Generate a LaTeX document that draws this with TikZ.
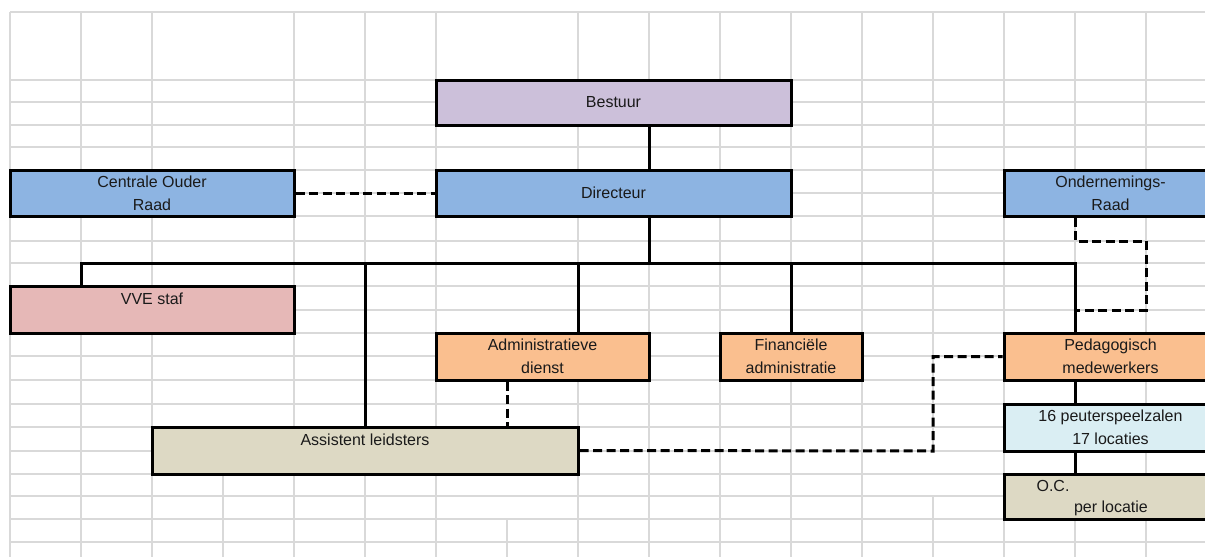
\documentclass[tikz,border=0pt]{standalone}
\usepackage{fontspec}
\setmainfont{Liberation Sans}
\definecolor{gridgray}{HTML}{D9D9D9}
\definecolor{lav}{HTML}{CCC0DA}
\definecolor{blu}{HTML}{8DB4E2}
\definecolor{pnk}{HTML}{E6B8B7}
\definecolor{org}{HTML}{FABF8F}
\definecolor{tan}{HTML}{DDD9C4}
\definecolor{lblue}{HTML}{DAEEF3}
\definecolor{txt}{HTML}{1A1A1A}
\begin{document}
\begin{tikzpicture}[x=1pt,y=-1pt,
  gridline/.style={draw=gridgray, line width=1.4pt},
  box/.style={draw=black, line width=3pt, inner sep=0pt, align=center,
    font=\fontsize{16}{23}\selectfont, text=txt},
  conn/.style={draw=black, line width=3pt},
  dconn/.style={draw=black, line width=3pt, dash pattern=on 9pt off 4.5pt},
  txtlabel/.style={inner sep=0pt, anchor=base, font=\fontsize{16}{23}\selectfont, text=txt}
]
\useasboundingbox (0,0) rectangle (1205,557);
\clip (0,0) rectangle (1205,557);
\fill[white] (0,0) rectangle (1205,557);

% spreadsheet grid
\foreach \x in {10,81,152,294,365,436,578,649,720,791,862,1004,1075,1146}
  \draw[gridline] (\x,12) -- (\x,557);
\draw[gridline] (223,474) -- (223,557);
\draw[gridline] (507,519) -- (507,557);
\draw[gridline] (933,12) -- (933,451);
\draw[gridline] (933,496) -- (933,557);
\foreach \y in {12,80,102,125,147,170,193,216,241,263,286,310,333,356,380,404,427,451,474,496,519,542}
  \draw[gridline] (10,\y) -- (1205,\y);

% boxes
\node[box, fill=lav, minimum width=355pt, minimum height=45pt] (bestuur) at (613.5,102.5) {Bestuur};
\node[box, fill=blu, minimum width=355pt, minimum height=46pt] (directeur) at (613.5,193) {Directeur};
\node[box, fill=blu, minimum width=284pt, minimum height=46pt] (cor) at (152,193) {Centrale Ouder\\Raad};
\node[box, fill=blu, minimum width=213pt, minimum height=46pt] (or) at (1110.5,193) {Ondernemings-\\Raad};
\node[box, fill=pnk, minimum width=284pt, minimum height=47pt] (vve) at (152,309.5) {};
\node[txtlabel] (vvetext) at (152,304) {VVE staf};
\node[box, fill=org, minimum width=213pt, minimum height=47pt] (admin) at (542.5,356.5) {Administratieve\\dienst};
\node[box, fill=org, minimum width=142pt, minimum height=47pt] (fin) at (791,356.5) {Financiële\\administratie};
\node[box, fill=org, minimum width=213pt, minimum height=47pt] (peda) at (1110.5,356.5) {Pedagogisch\\medewerkers};
\node[box, fill=tan, minimum width=426pt, minimum height=47pt] (assist) at (365,450.5) {};
\node[txtlabel] (assisttext) at (365,445) {Assistent leidsters};
\node[box, fill=lblue, minimum width=213pt, minimum height=47pt] (peuter) at (1110.5,427.5) {16 peuterspeelzalen\\17 locaties};
\node[box, fill=tan, minimum width=213pt, minimum height=45pt] (oc) at (1110.5,496.5) {};
\node[txtlabel] (octext1) at (1053,491) {O.C.};
\node[txtlabel] (octext2) at (1111,512) {per locatie};

% solid connectors
\coordinate (top) at (649,0);
\coordinate (busL) at (81,263);
\coordinate (busR) at (1075,263);
\coordinate (busAs) at (365,263);
\coordinate (busAd) at (578,263);
\coordinate (busF) at (791,263);
\draw[conn] (bestuur.south -| top) -- (directeur.north -| top);
\draw[conn] (directeur.south -| top) -- (busL -| top);
\draw[conn] (vve.north -| busL) -- (busL) -- (busR) -- (peda.north -| busR);
\draw[conn] (busAs) -- (assist.north);
\draw[conn] (busAd) -- (admin.north -| busAd);
\draw[conn] (busF) -- (fin.north);
\draw[conn] (peda.south -| busR) -- (peuter.north -| busR);
\draw[conn] (peuter.south -| busR) -- (oc.north -| busR);

% dashed connectors
\coordinate (orA) at (1075,241);
\coordinate (orB) at (1146,241);
\coordinate (orC) at (1146,310);
\coordinate (orD) at (1075,310);
\coordinate (adX) at (507,0);
\coordinate (asA) at (933,451);
\coordinate (asB) at (933,356.5);
\draw[dconn] (cor.east) -- (directeur.west);
\draw[dconn] (or.south -| orA) -- (orA) -- (orB) -- (orC) -- (orD);
\draw[dconn] (admin.south -| adX) -- (assist.north -| adX);
\draw[dconn] (assist.east) -- (asA) -- (asB) -- (peda.west);
\end{tikzpicture}
\end{document}
